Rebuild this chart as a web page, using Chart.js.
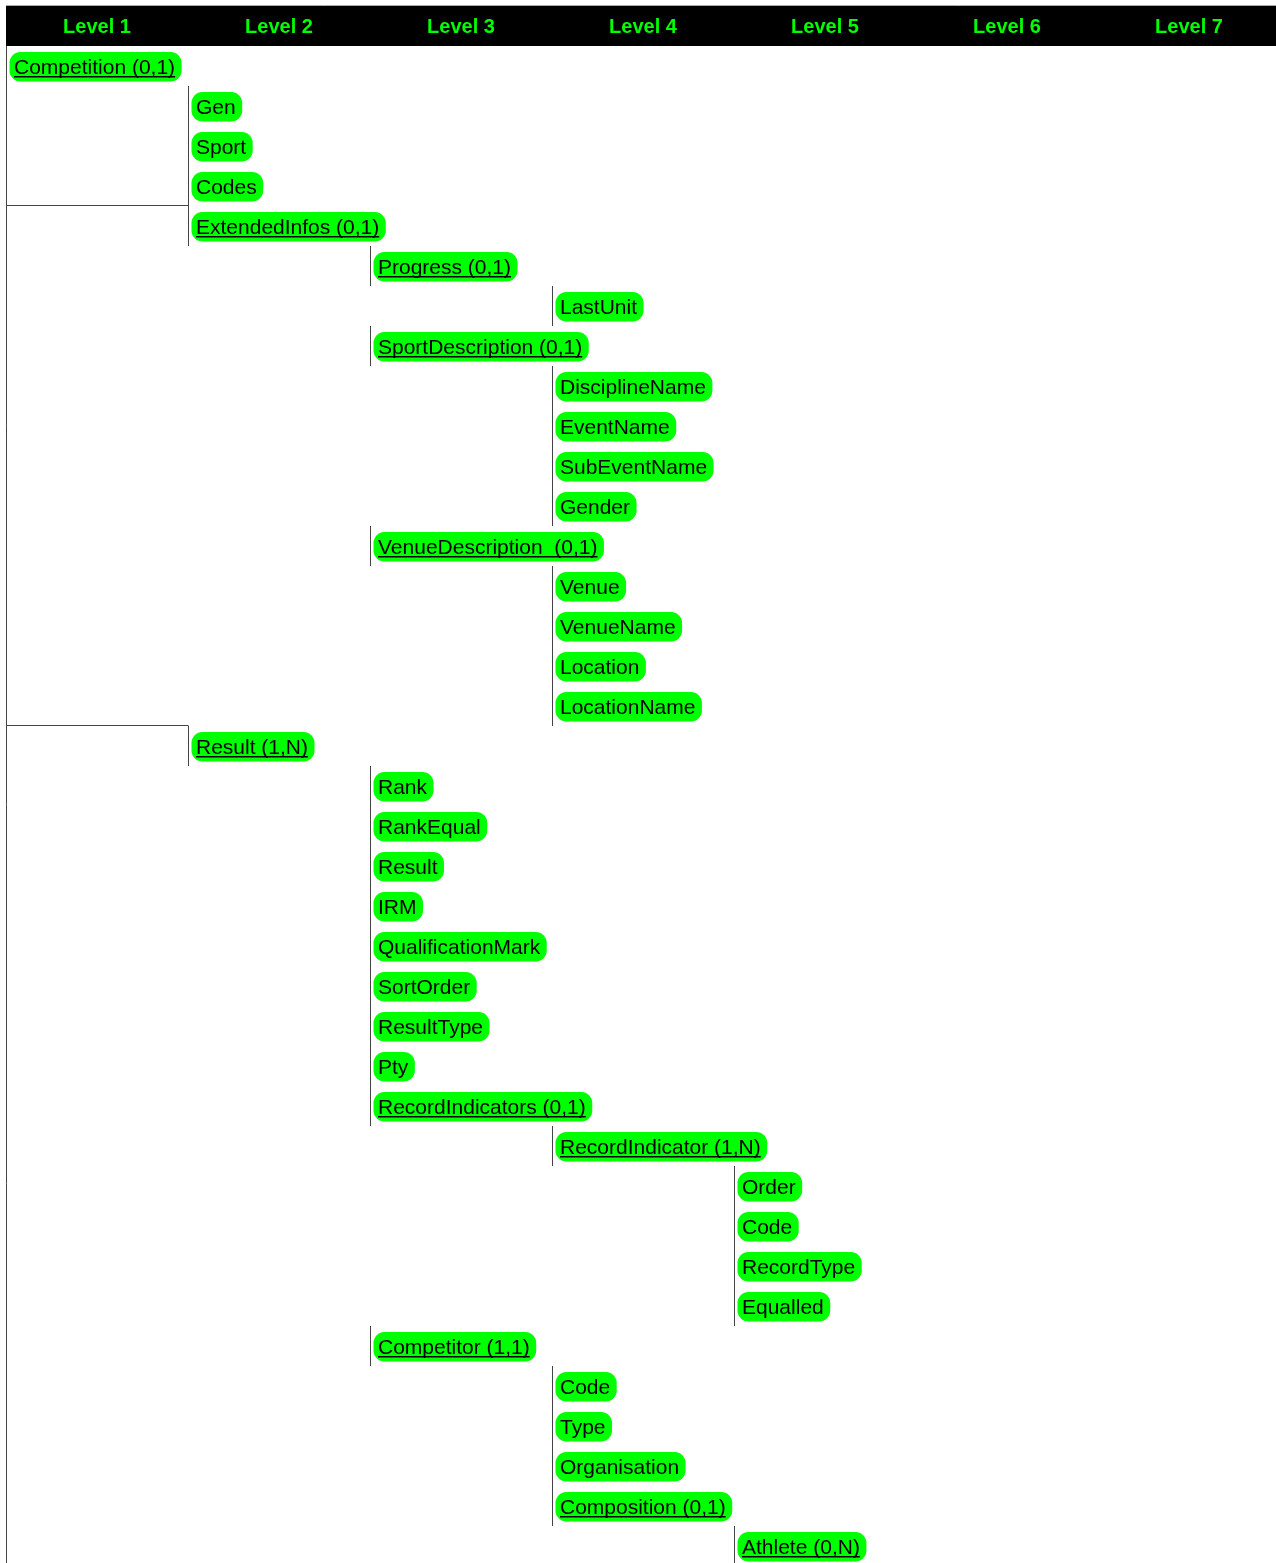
<!DOCTYPE html>
<html>
<head>
<meta charset="utf-8">
<script src="https://cdn.jsdelivr.net/npm/chart.js@4.4.1/dist/chart.umd.min.js"></script>
<style>
  html, body { margin: 0; padding: 0; background: #fff; overflow: hidden; }
  #wrap { width: 1276px; height: 1563px; }
</style>
</head>
<body>
<div id="wrap"><canvas id="chart" width="1276" height="1563"></canvas></div>
<script>
// Column headers
const levels = ["Level 1", "Level 2", "Level 3", "Level 4", "Level 5", "Level 6", "Level 7"];

// One entry per row, top to bottom
const nodeNames = [
  "Competition (0,1)", "Gen", "Sport", "Codes", "ExtendedInfos (0,1)",
  "Progress (0,1)", "LastUnit", "SportDescription (0,1)",
  "DisciplineName", "EventName", "SubEventName", "Gender",
  "VenueDescription  (0,1)", "Venue", "VenueName", "Location", "LocationName",
  "Result (1,N)", "Rank", "RankEqual", "Result", "IRM", "QualificationMark",
  "SortOrder", "ResultType", "Pty", "RecordIndicators (0,1)",
  "RecordIndicator (1,N)", "Order", "Code", "RecordType", "Equalled",
  "Competitor (1,1)", "Code", "Type", "Organisation", "Composition (0,1)",
  "Athlete (0,N)"
];
const nodeLevels = [
  1, 2, 2, 2, 2,
  3, 4, 3,
  4, 4, 4, 4,
  3, 4, 4, 4, 4,
  2, 3, 3, 3, 3, 3,
  3, 3, 3, 3,
  4, 5, 5, 5, 5,
  3, 4, 4, 4, 4,
  5
];
// rows where the level 1 column gets a rule above
const level1Breaks = [4, 17];

const FONT = '"Liberation Sans", Arial, sans-serif';

const treePlugin = {
  id: "tree",
  beforeDraw(chart) {
    const { ctx } = chart;
    const x = chart.scales.x;
    ctx.save();
    ctx.fillStyle = "#000";
    ctx.fillRect(x.left, x.top, chart.width - x.left, x.bottom - x.top);
    ctx.strokeStyle = "#aaa";
    ctx.lineWidth = 1;
    ctx.beginPath();
    ctx.moveTo(x.left, x.top - 0.5);
    ctx.lineTo(chart.width, x.top - 0.5);
    ctx.stroke();
    ctx.restore();
  },
  afterDatasetsDraw(chart) {
    const { ctx, chartArea } = chart;
    const xs = chart.scales.x, ys = chart.scales.y;
    const px = v => Math.round(xs.getPixelForValue(v)) + 0.5;
    const py = v => Math.round(ys.getPixelForValue(v));

    ctx.save();
    ctx.strokeStyle = "#444";
    ctx.lineWidth = 1;
    ctx.beginPath();
    // outer left border
    ctx.moveTo(px(0), chartArea.top);
    ctx.lineTo(px(0), chartArea.bottom);
    // rule left of every child node
    nodeLevels.forEach((lv, i) => {
      if (lv < 2) return;
      ctx.moveTo(px(lv - 1), py(i - 0.5));
      ctx.lineTo(px(lv - 1), py(i + 0.5));
    });
    level1Breaks.forEach(r => {
      const y = py(r - 0.5) - 0.5;
      ctx.moveTo(px(0), y);
      ctx.lineTo(px(1), y);
    });
    ctx.stroke();

    // green pills with labels
    const meta = chart.getDatasetMeta(0);
    ctx.font = "21px " + FONT;
    ctx.textBaseline = "alphabetic";
    meta.data.forEach((pt, i) => {
      const name = nodeNames[i];
      const w = ctx.measureText(name).width;
      const left = pt.x + 3.5, top = pt.y - 14;
      ctx.fillStyle = "#00ff00";
      ctx.beginPath();
      ctx.roundRect(left, top, w + 11, 29.5, 11);
      ctx.fill();
      ctx.fillStyle = "#000";
      const tx = pt.x + 8, ty = pt.y + 8;
      ctx.fillText(name, tx, ty);
      if (name.indexOf("(") >= 0) {
        ctx.fillRect(tx, ty + 2, w, 1.5);
      }
    });
    ctx.restore();
  }
};

new Chart(document.getElementById("chart"), {
  type: "scatter",
  data: {
    datasets: [{
      data: nodeNames.map((n, i) => ({ x: nodeLevels[i] - 1, y: i })),
      pointRadius: 0,
      pointHoverRadius: 0
    }]
  },
  options: {
    responsive: false,
    animation: false,
    events: [],
    layout: { padding: { top: 6, left: 6, right: 0, bottom: 0 } },
    plugins: { legend: { display: false }, tooltip: { enabled: false } },
    scales: {
      x: {
        type: "linear",
        position: "top",
        min: 0,
        max: 6.978,
        grid: { display: false, drawTicks: false },
        border: { display: false },
        afterBuildTicks: s => { s.ticks = levels.map((_, i) => ({ value: i + 0.5 })); },
        afterFit: s => { s.height = 40; },
        ticks: {
          autoSkip: false,
          maxRotation: 0,
          padding: 6.5,
          color: "#00ff00",
          font: { family: FONT, size: 20, weight: "bold" },
          callback: (v, i) => levels[i]
        }
      },
      y: {
        type: "linear",
        display: false,
        reverse: true,
        min: -0.5,
        max: 37.425
      }
    }
  },
  plugins: [treePlugin]
});
</script>
</body>
</html>
